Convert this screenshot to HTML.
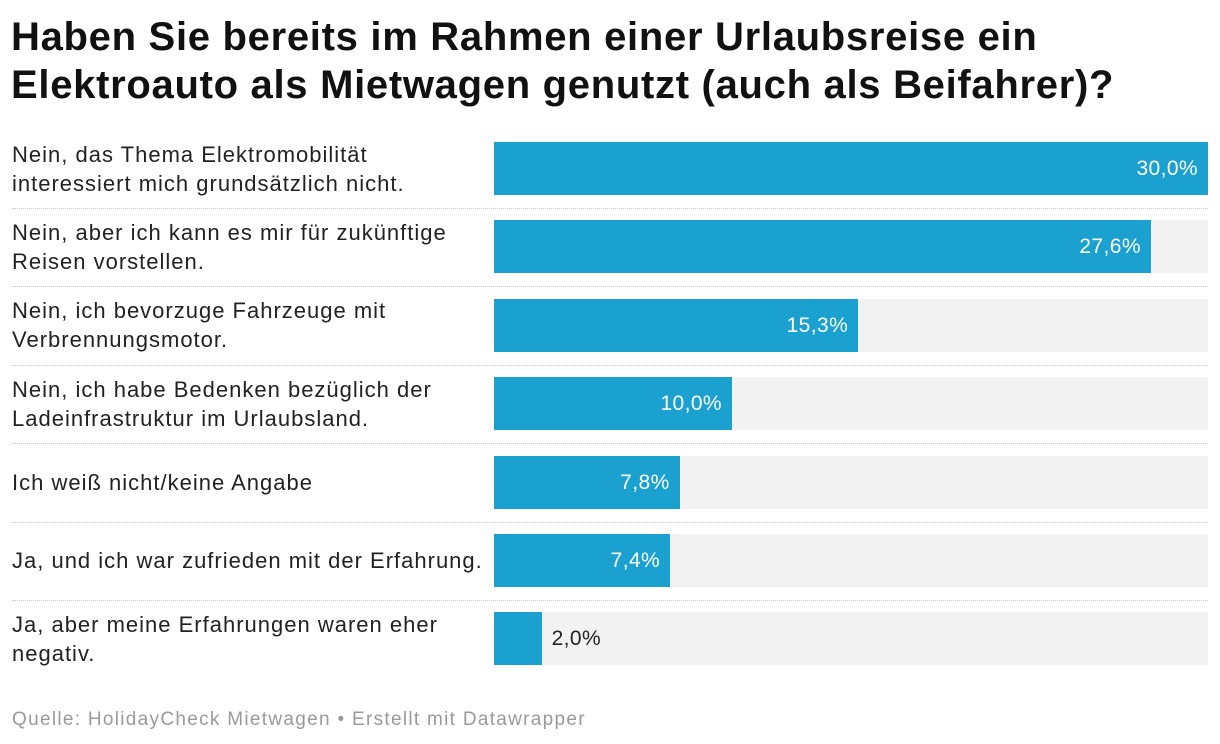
<!DOCTYPE html>
<html><head><meta charset="utf-8"><style>
body{margin:0;width:1220px;height:744px;background:#fff;font-family:"Liberation Sans",Roboto,sans-serif;color:#1d1d1d;overflow:hidden;position:relative}
h1{position:absolute;left:11px;top:13px;margin:0;font-size:40px;line-height:48px;font-weight:bold;letter-spacing:0.7px;color:#111}
.lbl{position:absolute;left:12px;width:480px;font-size:22px;line-height:29px;letter-spacing:1px;display:flex;align-items:center;color:#222}
.track{position:absolute;left:494px;width:714px;height:53px;background:#f2f2f2}
.bar{position:absolute;left:0;top:0;height:53px;background:#1aa1cf}
.val{position:absolute;top:0;height:53px;line-height:53px;font-size:21px;letter-spacing:0.4px}
.sep{position:absolute;left:12px;width:1196px;border-top:1px dotted #c8c8c8}
.foot{position:absolute;left:12px;top:709px;font-size:19px;letter-spacing:1.3px;color:#9a9a9a}
</style></head><body>
<h1>Haben Sie bereits im Rahmen einer Urlaubsreise ein<br>Elektroauto als Mietwagen genutzt (auch als Beifahrer)?</h1>
<div id="chart"></div>
<div class="foot">Quelle: HolidayCheck Mietwagen • Erstellt mit Datawrapper</div>
<script>
const categories=["Nein, das Thema Elektromobilität<br>interessiert mich grundsätzlich nicht.","Nein, aber ich kann es mir für zukünftige<br>Reisen vorstellen.","Nein, ich bevorzuge Fahrzeuge mit<br>Verbrennungsmotor.","Nein, ich habe Bedenken bezüglich der<br>Ladeinfrastruktur im Urlaubsland.","Ich weiß nicht/keine Angabe","Ja, und ich war zufrieden mit der Erfahrung.","Ja, aber meine Erfahrungen waren eher<br>negativ."];
const values=[30.0,27.6,15.3,10.0,7.8,7.4,2.0];
const maxValue=30;
const chart=document.getElementById('chart');
const x=v=>v/maxValue*714;
const rowTop=i=>142+i*78.4;
values.forEach((v,i)=>{
  const y=rowTop(i);
  const l=document.createElement('div');l.className='lbl';l.style.top=y+'px';l.style.height='53px';l.innerHTML='<span>'+categories[i]+'</span>';
  
  
  chart.appendChild(l);
  const t=document.createElement('div');t.className='track';t.style.top=y+'px';
  
  
  const b=document.createElement('div');b.className='bar';b.style.width=x(v)+'px';
  
  
  t.appendChild(b);
  const s=document.createElement('div');s.className='val';
  s.textContent=v.toFixed(1).replace('.',',')+'%';
  
  
  if(x(v)>80){s.style.right=(714-x(v)+10)+'px';s.style.color='#fff';}
  else{s.style.left=(x(v)+10)+'px';s.style.color='#222';}
  t.appendChild(s);
  chart.appendChild(t);
  if(i<values.length-1){const d=document.createElement('div');d.className='sep';d.style.top=(y+66)+'px';
  
  
  chart.appendChild(d);}
});
</script>
</body></html>
